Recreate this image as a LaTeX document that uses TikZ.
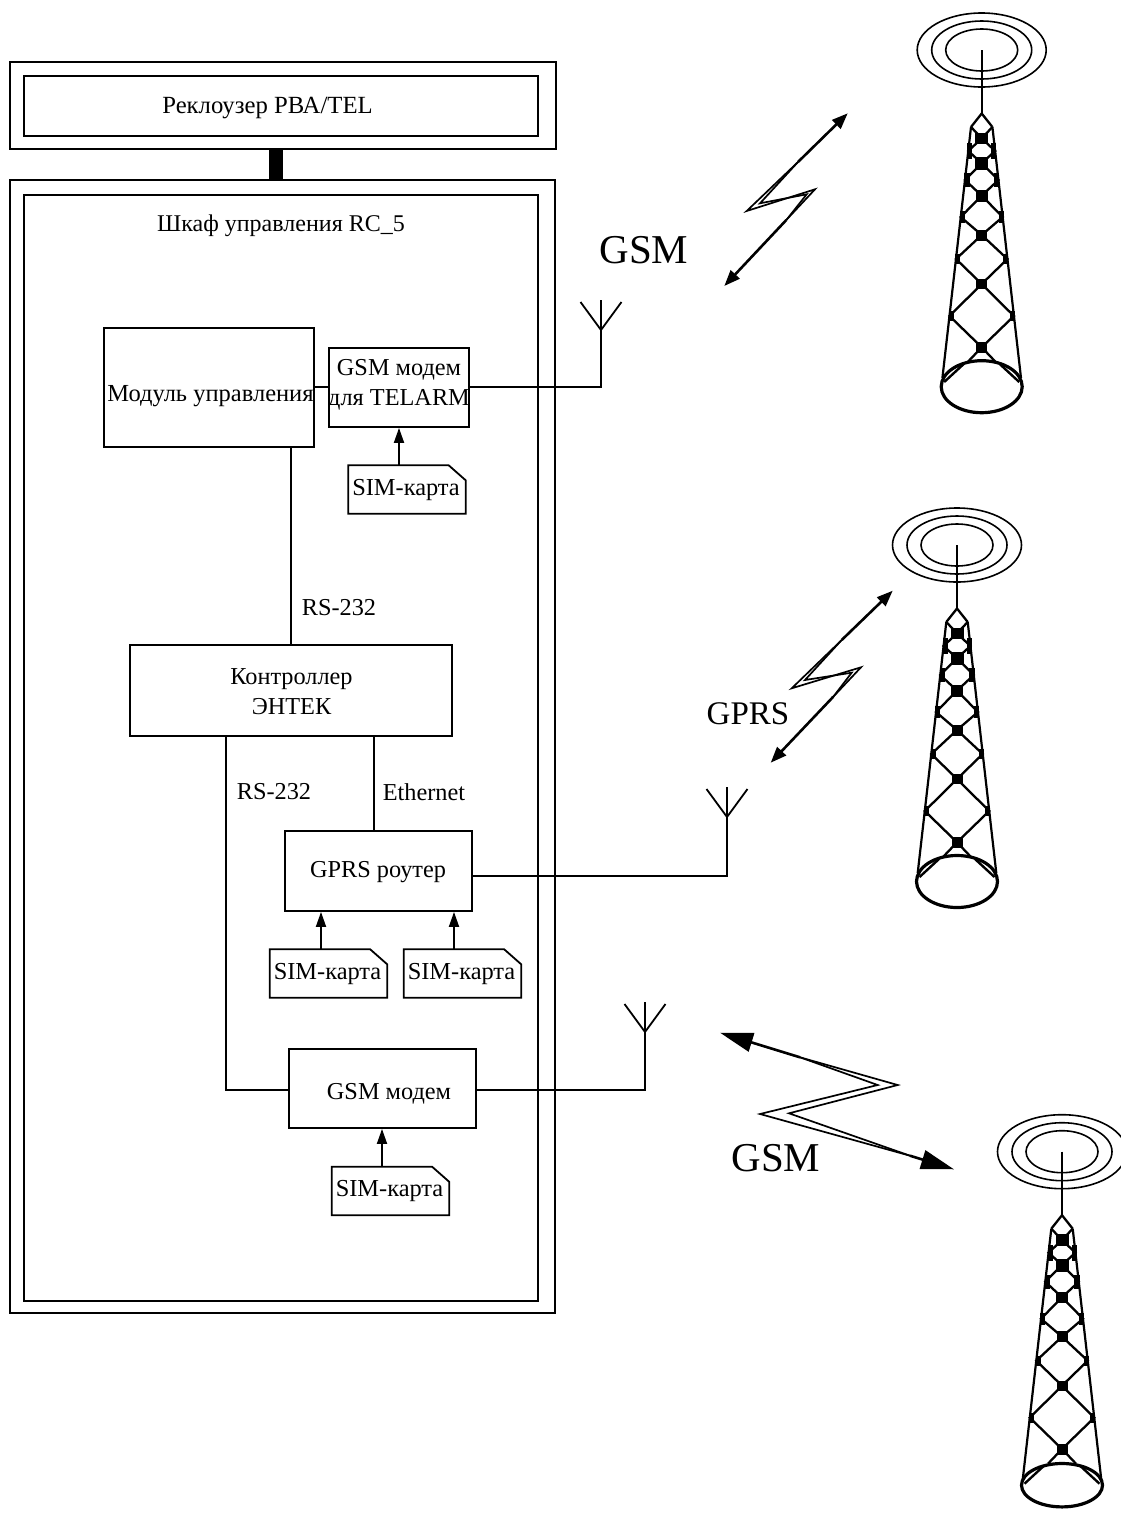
\documentclass[tikz,border=0pt]{standalone}
\usepackage{fontspec}
\setmainfont{Liberation Serif}
\usetikzlibrary{arrows.meta}
\tikzset{
  x=1pt,y=-1pt,
  wire/.style={line width=1.8pt,line join=miter},
  frame/.style={draw,line width=2pt,inner sep=0pt},
  box/.style={draw,line width=1.8pt,inner sep=0pt,align=center},
  txt/.style={inner sep=0pt,align=center,font=\fontsize{24.3}{30}\selectfont},
  big/.style={inner sep=0pt,font=\fontsize{41}{48}\selectfont},
  mid/.style={inner sep=0pt,font=\fontsize{33}{40}\selectfont},
  simtxt/.style={inner sep=0pt,minimum width=117pt,minimum height=48pt,font=\fontsize{24.4}{30}\selectfont},
  sarrow/.style={wire,-{Triangle[length=15pt,width=10pt]}},
  barrow/.style={line width=2.6pt,-{Triangle[length=16pt,width=12pt]}},
  harrow/.style={line width=2.6pt,-{Triangle[length=33pt,width=19pt]}},
  bolt/.style={line width=1.7pt,line join=miter,miter limit=20},
  lat/.style={line width=2.3pt},
  knot/.style={fill=black,draw=none},
}
% antenna: name, x, y of vertex
\newcommand{\antenna}[3]{%
  \coordinate (#1) at (#2,#3);
  \draw[wire] (#1) -- ++(0,-30);
  \draw[wire] (#1) -- ++(-20.5,-28);
  \draw[wire] (#1) -- ++(20.5,-28);
}
% SIM card
\newcommand{\simcard}[3]{%
  \node[simtxt] (#1) at (#2,#3) {\raisebox{-5.5pt}[12pt][12pt]{\hspace*{-2pt}SIM-карта}};
  \draw[wire] (#1.south west) -- (#1.north west) -- ([xshift=-17pt]#1.north east) -- ([yshift=-15pt]#1.north east) -- (#1.south east) -- cycle;
}
% tower: x, y of rings' centre; y of base ellipse; its y radius
\newcommand{\tower}[4]{%
\begin{scope}[shift={(#1,#2)}]
  \draw[line width=1.6pt] (0,0) ellipse [x radius=64.5,y radius=37];
  \draw[line width=1.6pt] (0,0) ellipse [x radius=50,y radius=29];
  \draw[line width=1.6pt] (0,0) ellipse [x radius=36,y radius=21];
  \draw[line width=1.7pt] (0,0) -- (0,63.5);
  \draw[lat,line join=round] (-10.7,77) -- (0,63.5) -- (10.7,77);
  \draw[line width=2.2pt] (-10.7,77) -- (-39.3,328);
  \draw[line width=2.2pt] (10.7,77) -- (39.3,328);
  \foreach \s in {-1,1}{
    \draw[lat] (\s*10.7,77) -- (0,88.3) -- (\s*13.4,101) -- (0,113.3) -- (\s*16.7,130) -- (0,145.7)
      -- (\s*21,167) -- (0,185) -- (\s*25.7,209) -- (0,234) -- (\s*32.2,266) -- (0,297.3) -- (\s*14,312);
    \draw[line width=2.4pt] (\s*37.5,332) -- (\s*18,314);
    \path[knot] (\s*9.5,93) rectangle (\s*14.5,109);
    \path[knot] (\s*12,123) rectangle (\s*17.5,137);
    \path[knot] (\s*17,161) rectangle (\s*22,173);
    \path[knot] (\s*21.5,204) rectangle (\s*26.5,214);
    \path[knot] (\s*28,261) rectangle (\s*33,271);
  }
  \path[knot] (-6.5,82.5) rectangle (6.5,94);
  \path[knot] (-6.5,107) rectangle (6.5,120);
  \path[knot] (-6,140) rectangle (6,151.5);
  \path[knot] (-5.5,179.5) rectangle (5.5,190.5);
  \path[knot] (-5.5,229) rectangle (5.5,239);
  \path[knot] (-5.5,292) rectangle (5.5,303);
  \draw[line width=3.2pt] (0,#3) ellipse [x radius=40.5,y radius=#4];
\end{scope}}
\begin{document}
\begin{tikzpicture}
\useasboundingbox (0,0) rectangle (1121,1513);
% top unit
\node[frame,minimum width=546pt,minimum height=87pt] (rec) at (283,105.5) {};
\node[frame,minimum width=514pt,minimum height=60pt] (recin) at (281,106) {};
\node[txt,font=\fontsize{24.7}{30}\selectfont] (rect) at (267.5,108) {Реклоузер РВА/TEL};
% cabinet
\node[frame,minimum width=545pt,minimum height=1133pt] (cab) at (282.5,746.5) {};
\node[frame,minimum width=514pt,minimum height=1106pt] (cabin) at (281,748) {};
\node[txt,font=\fontsize{24}{30}\selectfont] (cabt) at (281,226) {Шкаф управления RC\_5};
\fill ([xshift=-12pt]rec.south-|cabin.north) rectangle ([xshift=2pt]cab.north-|cabin.north);
% blocks
\node[box,minimum width=210pt,minimum height=119pt] (mod) at (209,387.5) {};
\node[txt,font=\fontsize{24.5}{30}\selectfont] (modt) at (210.5,396) {Модуль управления};
\node[box,minimum width=140pt,minimum height=79pt] (gsm1) at (399,387.5) {};
\node[txt] (gsm1t) at (399,385) {GSM модем\\для TELARM};
\simcard{sim1}{407}{489.5}
\node[box,minimum width=322pt,minimum height=91pt] (ctl) at (291,690.5) {};
\node[txt] (ctlt) at (291.5,692) {Контроллер\\ЭНТЕК};
\node[box,minimum width=187pt,minimum height=80pt] (gprs) at (378.5,871) {};
\node[txt] (gprst) at (378,872) {GPRS роутер};
\simcard{sim2}{328.5}{973.5}
\simcard{sim3}{462.5}{973.5}
\node[box,minimum width=187pt,minimum height=79pt] (gsm2) at (382.5,1088.5) {};
\node[txt] (gsm2t) at (389,1094) {GSM модем};
\simcard{sim4}{390.5}{1191}
% antennas
\antenna{ant1}{601}{330}
\antenna{ant2}{727}{817}
\antenna{ant3}{645}{1032}
% connectors
\draw[wire] (mod.east |- 0,387) -- (gsm1.west |- 0,387);
\draw[wire] (gsm1.east |- 0,387) -| (ant1);
\draw[wire] (gprs.east |- 0,876) -| (ant2);
\draw[wire] (gsm2.east |- 0,1090) -| (ant3);
\draw[wire] (mod.south -| ctl.north) -- (ctl.north);
\draw[wire] ([xshift=-4.5pt]ctl.south -| gprs.north) -- ([xshift=-4.5pt]gprs.north);
\draw[wire] (226,0 |- ctl.south) -- (226,1090) -- (gsm2.west |- 0,1090);
\draw[sarrow] ([xshift=-8pt]sim1.north) -- ([xshift=-8pt]sim1.north |- gsm1.south);
\draw[sarrow] ([xshift=-7.5pt]sim2.north) -- ([xshift=-7.5pt]sim2.north |- gprs.south);
\draw[sarrow] ([xshift=-8.5pt]sim3.north) -- ([xshift=-8.5pt]sim3.north |- gprs.south);
\draw[sarrow] ([xshift=-8.5pt]sim4.north) -- ([xshift=-8.5pt]sim4.north |- gsm2.south);
% labels
\node[txt] (l1) at (339,608) {RS-232};
\node[txt] (l2) at (274,792) {RS-232};
\node[txt] (l3) at (424,792) {Ethernet};
\node[big] (g1) at (644,250) {GSM};
\node[mid] (g2) at (748,714) {GPRS};
\node[big] (g3) at (776,1158) {GSM};
% bolt 1
\coordinate (b1t) at (798.3,161.7); \coordinate (b1b) at (786.3,220);
\coordinate (b1tip) at (847.7,113.3); \coordinate (b1bip) at (724.3,286);
\draw[bolt] (b1t) -- (746.7,211) -- (815,189.3) -- (b1b);
\draw[bolt] (b1t) -- (760,203.3) -- (806.7,194.3) -- (b1b);
\draw[barrow] (b1t) -- (b1tip);
\draw[barrow] (b1b) -- (b1bip);
% bolt 2
\coordinate (b2t) at (841.7,640); \coordinate (b2b) at (833.3,696.7);
\coordinate (b2tip) at (892.7,590.7); \coordinate (b2bip) at (770.7,762.7);
\draw[bolt] (b2t) -- (791.7,688.3) -- (861,667.3) -- (b2b);
\draw[bolt] (b2t) -- (805,680) -- (851.7,672.7) -- (b2b);
\draw[barrow] (b2t) -- (b2tip);
\draw[barrow] (b2b) -- (b2bip);
% bolt 3
\coordinate (b3t) at (800,1057.3); \coordinate (b3b) at (910,1155.7);
\coordinate (b3tip) at (720,1032.7); \coordinate (b3bip) at (954,1169.3);
\draw[bolt] (b3t) -- (897.7,1085) -- (789,1113.3) -- (b3b);
\draw[bolt] (b3t) -- (877.7,1085) -- (760,1114) -- (b3b);
\draw[harrow] (b3t) -- (b3tip);
\draw[harrow] (b3b) -- (b3bip);
% towers
\tower{981.7}{50}{336.7}{26}
\tower{957}{545}{336.5}{26}
\tower{1062}{1151.7}{333.5}{21.7}
\end{tikzpicture}
\end{document}
